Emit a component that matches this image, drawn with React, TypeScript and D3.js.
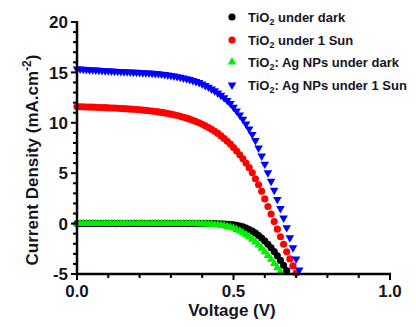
import React from "react";
import * as d3 from "d3";

const VOLTAGE = [
  0.0, 0.01, 0.02, 0.03, 0.04, 0.05, 0.06, 0.07, 0.08, 0.09,
  0.1, 0.11, 0.12, 0.13, 0.14, 0.15, 0.16, 0.17, 0.18, 0.19,
  0.2, 0.21, 0.22, 0.23, 0.24, 0.25, 0.26, 0.27, 0.28, 0.29,
  0.3, 0.31, 0.32, 0.33, 0.34, 0.35, 0.36, 0.37, 0.38, 0.39,
  0.4, 0.41, 0.42, 0.43, 0.44, 0.45, 0.46, 0.47, 0.48, 0.49,
  0.5, 0.51, 0.52, 0.53, 0.54, 0.55, 0.56, 0.57, 0.58, 0.59,
  0.6, 0.61, 0.62, 0.63, 0.64, 0.65, 0.66, 0.67, 0.68, 0.69,
  0.7, 0.71,
];

const TIO2_DARK = [
  0, 0, 0, 0, 0, 0, 0, 0, 0, 0,
  0, 0, 0, 0, 0, 0, 0, 0, 0, 0,
  0, 0, 0, 0, 0, 0, 0, 0, 0, 0,
  0, 0, 0, 0, 0, 0, 0, 0, 0, 0,
  0, 0, 0, 0, 0, -0.01, -0.02, -0.04, -0.06, -0.09,
  -0.12, -0.17, -0.24, -0.33, -0.44, -0.58, -0.75, -0.95, -1.18, -1.44,
  -1.73, -2.05, -2.4, -2.78, -3.2, -3.65, -4.14, -4.67,
];

const TIO2_SUN = [
  11.6, 11.59, 11.58, 11.57, 11.56, 11.55, 11.54, 11.52, 11.51, 11.5,
  11.48, 11.47, 11.46, 11.44, 11.42, 11.4, 11.38, 11.36, 11.34, 11.32,
  11.29, 11.26, 11.23, 11.2, 11.16, 11.12, 11.08, 11.03, 10.98, 10.92,
  10.86, 10.79, 10.72, 10.64, 10.55, 10.46, 10.36, 10.25, 10.13, 10.0,
  9.86, 9.7, 9.53, 9.35, 9.16, 8.95, 8.7, 8.44, 8.17, 7.89,
  7.55, 7.2, 6.83, 6.43, 6.0, 5.55, 5.05, 4.45, 3.85, 3.2,
  2.45, 1.7, 0.95, 0.2, -0.55, -1.3, -2.05, -2.8, -3.5, -4.2,
  -4.9,
];

const AG_DARK = [
  0, 0, 0, 0, 0, 0, 0, 0, 0, 0,
  0, 0, 0, 0, 0, 0, 0, 0, 0, 0,
  0, 0, 0, 0, 0, 0, 0, 0, 0, 0,
  0, 0, 0, 0, 0, 0, 0, 0, 0, -0.01,
  -0.02, -0.03, -0.05, -0.07, -0.1, -0.13, -0.17, -0.22, -0.28, -0.36,
  -0.45, -0.58, -0.74, -0.91, -1.1, -1.3, -1.55, -1.82, -2.12, -2.44,
  -2.79, -3.16, -3.55, -3.96, -4.38, -4.8,
];

const AG_SUN = [
  15.35, 15.33, 15.31, 15.29, 15.27, 15.25, 15.23, 15.21, 15.19, 15.17,
  15.15, 15.13, 15.11, 15.1, 15.08, 15.07, 15.05, 15.04, 15.02, 15.01,
  14.99, 14.97, 14.95, 14.93, 14.91, 14.89, 14.86, 14.83, 14.79, 14.75,
  14.7, 14.64, 14.58, 14.51, 14.44, 14.37, 14.29, 14.2, 14.1, 13.99,
  13.85, 13.7, 13.54, 13.36, 13.17, 12.96, 12.73, 12.48, 12.21, 11.92,
  11.55, 11.18, 10.78, 10.35, 9.88, 9.38, 8.85, 8.25, 7.5, 6.7,
  5.9, 5.05, 4.2, 3.3, 2.4, 1.5, 0.55, -0.4, -1.4, -2.4,
  -3.5, -4.6,
];

const SERIES_NAMES = [
  "TiO2 under dark",
  "TiO2 under 1 Sun",
  "TiO2: Ag NPs under dark",
  "TiO2: Ag NPs under 1 Sun",
];
const SERIES_COLORS = ["#000000", "#ff0000", "#00ee00", "#0000ff"];
const SERIES_SHAPES = ["circle", "circle", "up", "down"];
const SERIES_VALUES = [TIO2_DARK, TIO2_SUN, AG_DARK, AG_SUN];

const X_TICKS = [0, 0.5, 1.0];
const X_TICK_LABELS = ["0.0", "0.5", "1.0"];
const X_MINOR = [0, 0.1, 0.2, 0.3, 0.4, 0.5, 0.6, 0.7, 0.8, 0.9, 1.0];
const Y_TICKS = [-5, 0, 5, 10, 15, 20];
const Y_TICK_LABELS = ["-5", "0", "5", "10", "15", "20"];
const Y_MINOR = d3.range(-5, 21, 1);

const FONT = "'Liberation Sans', Arial, sans-serif";
const TEXT = "#15151f";

export default function App() {
  const x = d3.scaleLinear().domain([0, 1]).range([77, 390]);
  const y = d3.scaleLinear().domain([-5, 20]).range([274, 22]);

  const circle = d3.symbol().type(d3.symbolCircle).size(40)() as string;
  const tri = d3.symbol().type(d3.symbolTriangle).size(32)() as string;

  const marker = (shape: string, color: string, cx: number, cy: number, key: any) => {
    if (shape === "circle") {
      return <path key={key} d={circle} transform={`translate(${cx},${cy})`} fill={color} />;
    }
    const rot = shape === "down" ? " rotate(180)" : "";
    return <path key={key} d={tri} transform={`translate(${cx},${cy})${rot}`} fill={color} />;
  };

  const legendRows = [17, 40, 62, 85];

  return (
    <svg
      width={416}
      height={327}
      style={{ position: "absolute", left: 0, top: 0, background: "#fff" }}
      fontFamily={FONT}
    >
      <rect x={0} y={0} width={416} height={327} fill="#fff" />
      {/* series */}
      {SERIES_VALUES.map((vals, si) => (
        <g key={si}>
          {vals.map((v, i) =>
            marker(SERIES_SHAPES[si], SERIES_COLORS[si], x(VOLTAGE[i]), y(v), i)
          )}
        </g>
      ))}
      {/* axes */}
      <line x1={x(0)} x2={x(0)} y1={y(20) - 1} y2={y(-5) + 1} stroke="#000" strokeWidth={2.5} />
      <line x1={x(0) - 1} x2={x(1) + 1} y1={y(-5)} y2={y(-5)} stroke="#000" strokeWidth={2.5} />
      {Y_MINOR.map((t) => (
        <line key={"ym" + t} x1={x(0)} x2={x(0) - (t % 5 === 0 ? 6 : 4)} y1={y(t)} y2={y(t)} stroke="#000" strokeWidth={2} />
      ))}
      {X_MINOR.map((t) => (
        <line key={"xm" + t} x1={x(t)} x2={x(t)} y1={y(-5)} y2={y(-5) + (X_TICKS.includes(t) ? 6 : 4)} stroke="#000" strokeWidth={2} />
      ))}
      {Y_TICKS.map((t, i) => (
        <text key={"yl" + t} x={68} y={y(t)} dy="0.36em" textAnchor="end" fontSize={17} fontWeight="bold" fill={TEXT}>
          {Y_TICK_LABELS[i]}
        </text>
      ))}
      {X_TICKS.map((t, i) => (
        <text key={"xl" + t} x={x(t)} y={297} textAnchor="middle" fontSize={17} fontWeight="bold" fill={TEXT}>
          {X_TICK_LABELS[i]}
        </text>
      ))}
      <text x={232} y={316} textAnchor="middle" fontSize={17} fontWeight="bold" fill={TEXT}>
        Voltage (V)
      </text>
      <text transform="translate(38,160) rotate(-90)" textAnchor="middle" fontSize={17} fontWeight="bold" fill={TEXT}>
        Current Density (mA.cm
        <tspan fontSize={12} dy={-7}>-2</tspan>
        <tspan dy={7}>)</tspan>
      </text>
      {/* legend */}
      {SERIES_NAMES.map((name, i) => {
        const [pre, rest] = [name.slice(0, 3), name.slice(4)];
        return (
          <g key={"lg" + i}>
            {marker(SERIES_SHAPES[i], SERIES_COLORS[i], 232, legendRows[i], "m")}
            <text x={248} y={legendRows[i] + 4.5} fontSize={13} fontWeight="bold" fill={TEXT}>
              {pre}
              <tspan fontSize={9} dy={3}>2</tspan>
              <tspan dy={-3}>{rest}</tspan>
            </text>
          </g>
        );
      })}
    </svg>
  );
}
